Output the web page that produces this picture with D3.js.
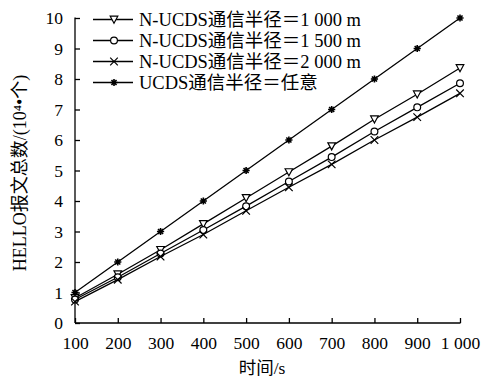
<!DOCTYPE html>
<html>
<head>
<meta charset="utf-8">
<script src="https://cdn.jsdelivr.net/npm/d3@7"></script>
<style>
  body { margin: 0; background: #fff; }
  svg text { font-family: "Liberation Serif", "Noto Sans CJK SC", serif; fill: #000; }
</style>
</head>
<body>
<div id="chart"></div>
<script>
// time (s)
let times = [100, 200, 300, 400, 500, 600, 700, 800, 900, 1000];
// HELLO count, 10^4
let r1000 = [0.82, 1.6, 2.4, 3.25, 4.1, 4.95, 5.8, 6.68, 7.5, 8.36];
let r1500 = [0.77, 1.5, 2.28, 3.05, 3.83, 4.64, 5.44, 6.28, 7.07, 7.86];
let r2000 = [0.7, 1.42, 2.18, 2.9, 3.68, 4.45, 5.2, 6.0, 6.75, 7.53];
let ucds = [1, 2, 3, 4, 5, 6, 7, 8, 9, 10];
let seriesNames = ["N-UCDS通信半径＝1 000 m", "N-UCDS通信半径＝1 500 m", "N-UCDS通信半径＝2 000 m", "UCDS通信半径＝任意"];
let xTicks = [100, 200, 300, 400, 500, 600, 700, 800, 900, 1000];
let yTicks = [0, 1, 2, 3, 4, 5, 6, 7, 8, 9, 10];

let series = [
  { name: seriesNames[0], values: r1000, marker: "tri" },
  { name: seriesNames[1], values: r1500, marker: "circle" },
  { name: seriesNames[2], values: r2000, marker: "cross" },
  { name: seriesNames[3], values: ucds, marker: "star" }
];

let width = 490, height = 379;
let margin = { top: 18, right: 30, bottom: 56, left: 75 };

let svg = d3.select("#chart").append("svg")
  .attr("width", width).attr("height", height);

let x = d3.scaleLinear().domain([100, 1000]).range([margin.left, width - margin.right]);
let y = d3.scaleLinear().domain([0, 10]).range([height - margin.bottom, margin.top]);

// axes
let xAxis = svg.append("g")
  .attr("transform", "translate(0," + y(0) + ")")
  .call(d3.axisBottom(x).tickValues(xTicks).tickSizeInner(-5).tickSizeOuter(0).tickPadding(14)
    .tickFormat(d => d === 1000 ? "1 000" : d));
let yAxis = svg.append("g")
  .attr("transform", "translate(" + x(100) + ",0)")
  .call(d3.axisLeft(y).tickValues(yTicks).tickSizeInner(-5).tickSizeOuter(0).tickPadding(12));

[xAxis, yAxis].forEach(g => {
  g.selectAll("path, line").attr("stroke", "#000").attr("stroke-width", 1.3);
  g.selectAll("text").style("font-size", "17.5px");
});
xAxis.select(".domain").attr("d", "M" + x(100) + ",0H" + (x(1000) + 0.5));
yAxis.select(".domain").attr("d", "M0," + y(0) + "V" + (y(10) - 0.5));

// axis titles
svg.append("text")
  .attr("transform", "translate(26," + 173 + ") rotate(-90)")
  .attr("text-anchor", "middle")
  .style("font-size", "18px")
  .text("HELLO报文总数/(10⁴•个)");
svg.append("text")
  .attr("x", 262).attr("y", 374)
  .attr("text-anchor", "middle")
  .style("font-size", "17.5px")
  .text("时间/s");

function drawMarker(g, type, cx, cy) {
  let s = 3.8;
  if (type === "tri") {
    g.append("path")
      .attr("d", `M${cx - s},${cy - s + 0.5}L${cx + s},${cy - s + 0.5}L${cx},${cy + s}Z`)
      .attr("fill", "#fff").attr("stroke", "#000").attr("stroke-width", 1.2);
  } else if (type === "circle") {
    g.append("circle").attr("cx", cx).attr("cy", cy).attr("r", 3.4)
      .attr("fill", "#fff").attr("stroke", "#000").attr("stroke-width", 1.2);
  } else if (type === "cross") {
    g.append("path")
      .attr("d", `M${cx - s},${cy - s}L${cx + s},${cy + s}M${cx - s},${cy + s}L${cx + s},${cy - s}`)
      .attr("stroke", "#000").attr("stroke-width", 1.2);
  } else {
    let r = 3.6;
    let d = "";
    for (let a = 0; a < 180; a += 45) {
      let rad = a * Math.PI / 180;
      d += `M${cx - r * Math.cos(rad)},${cy - r * Math.sin(rad)}L${cx + r * Math.cos(rad)},${cy + r * Math.sin(rad)}`;
    }
    g.append("path").attr("d", d).attr("stroke", "#000").attr("stroke-width", 1.6);
  }
}

let line = d3.line().x((d, i) => x(times[i])).y(d => y(d));

series.forEach(s => {
  let g = svg.append("g");
  g.append("path").datum(s.values)
    .attr("d", line).attr("fill", "none").attr("stroke", "#000").attr("stroke-width", 1.3);
  s.values.forEach((v, i) => drawMarker(g, s.marker, x(times[i]), y(v)));
});

// legend
let legend = svg.append("g");
series.forEach((s, i) => {
  let ly = 19.5 + i * 21;
  legend.append("line").attr("x1", 93).attr("x2", 133).attr("y1", ly).attr("y2", ly)
    .attr("stroke", "#000").attr("stroke-width", 1.3);
  drawMarker(legend, s.marker, 114, ly);
  legend.append("text").attr("x", 139).attr("y", ly + 6)
    .style("font-size", "18.5px").text(s.name);
});
</script>
</body>
</html>
